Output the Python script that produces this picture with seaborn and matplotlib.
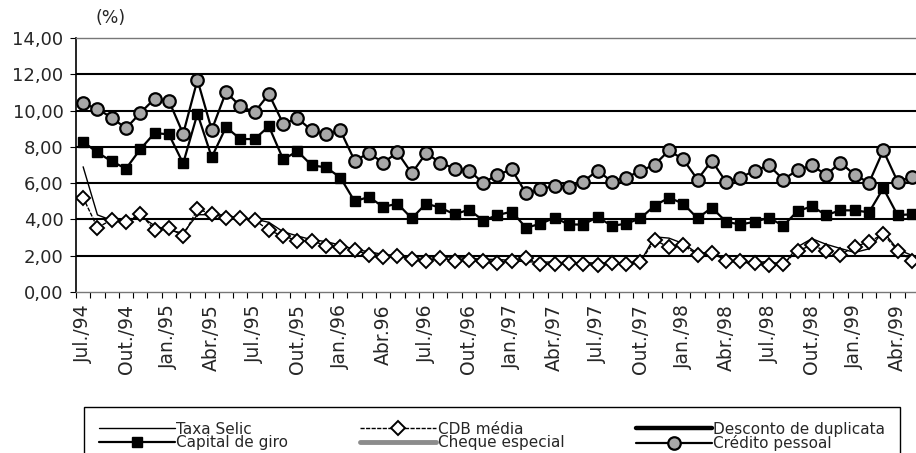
import matplotlib
matplotlib.use("Agg")
import matplotlib.pyplot as plt
import seaborn as sns
import numpy as np

sns.set_theme(style="white")
plt.rcParams["font.family"] = ["DejaVu Sans"]

# monthly rates (% a.m.), Jul/94 .. May/99
taxa_selic = [6.90, 4.25, 3.95, 3.90, 4.20, 3.65, 3.40, 3.25, 4.26, 4.26, 4.25, 4.04, 4.02, 3.84, 3.32, 3.09, 2.88, 2.78, 2.58,
              2.35, 2.22, 2.07, 2.01, 1.98, 1.93, 1.97, 1.90, 1.86, 1.80, 1.80, 1.73, 1.67, 1.64, 1.66, 1.58, 1.61, 1.60, 1.59, 1.59, 1.67,
              3.04, 2.97, 2.67, 2.13, 2.20, 1.71, 1.63, 1.60, 1.70, 1.48, 2.49, 2.94, 2.63, 2.40, 2.18, 2.38, 3.33, 2.35, 2.02]
cdb_media = [5.20, 3.55, 3.98, 3.87, 4.31, 3.43, 3.54, 3.09, 4.57, 4.31, 4.09, 4.09, 3.98, 3.39, 3.09, 2.83, 2.83, 2.55, 2.50,
             2.31, 2.06, 1.91, 1.98, 1.80, 1.72, 1.87, 1.72, 1.76, 1.72, 1.61, 1.72, 1.87, 1.54, 1.54, 1.61, 1.57, 1.50, 1.61, 1.55, 1.65,
             2.87, 2.46, 2.57, 2.06, 2.17, 1.72, 1.72, 1.61, 1.50, 1.54, 2.28, 2.57, 2.28, 2.06, 2.50, 2.76, 3.20, 2.28, 1.72]
capital_giro = [8.28, 7.69, 7.20, 6.80, 7.87, 8.76, 8.69, 7.09, 9.83, 7.43, 9.09, 8.43, 8.43, 9.13, 7.31, 7.76, 6.98, 6.87, 6.31,
                5.00, 5.24, 4.69, 4.87, 4.06, 4.87, 4.65, 4.28, 4.54, 3.94, 4.24, 4.43, 3.54, 3.76, 4.09, 3.72, 3.72, 4.13, 3.65, 3.76, 4.06,
                4.76, 5.20, 4.87, 4.06, 4.65, 3.87, 3.72, 3.87, 4.09, 3.65, 4.46, 4.72, 4.24, 4.50, 4.50, 4.39, 5.72, 4.24, 4.28]
credito_pessoal = [10.39, 10.09, 9.61, 9.02, 9.87, 10.65, 10.54, 8.72, 11.69, 8.94, 11.02, 10.24, 9.91, 10.91, 9.28, 9.57, 8.91, 8.69, 8.91,
                   7.24, 7.65, 7.13, 7.69, 6.54, 7.65, 7.13, 6.80, 6.69, 6.02, 6.46, 6.76, 5.43, 5.65, 5.87, 5.76, 6.09, 6.69, 6.09, 6.31, 6.67,
                   7.02, 7.80, 7.31, 6.20, 7.24, 6.06, 6.31, 6.69, 6.98, 6.20, 6.72, 6.98, 6.46, 7.13, 6.46, 6.02, 7.80, 6.09, 6.35]
# not visible in the plotted area, legend only
desconto_duplicata = []
cheque_especial = []

x_labels = ["Jul./94", "Out./94", "Jan./95", "Abr./95", "Jul./95", "Out./95", "Jan./96", "Abr.96", "Jul./96", "Out./96",
            "Jan./97", "Abr./97", "Jul./97", "Out./97", "Jan./98", "Abr./98", "Jul./98", "Out./98", "Jan./99", "Abr./99"]
y_ticks = [0, 2, 4, 6, 8, 10, 12, 14]
y_labels = ["0,00", "2,00", "4,00", "6,00", "8,00", "10,00", "12,00", "14,00"]

months = np.arange(len(cdb_media))

fig = plt.figure(figsize=(9.16, 4.53), dpi=100)
ax = fig.add_axes([76 / 916, 1 - 292 / 453, 843 / 916, 254 / 453])

sns.lineplot(x=months, y=taxa_selic, ax=ax, color="black", lw=1.0, label="Taxa Selic")
sns.lineplot(x=months, y=cdb_media, ax=ax, color="black", lw=1.0, ls=(0, (3, 1)),
             marker="D", markersize=6.8, markerfacecolor="white", mec="black", mew=1.4, label="CDB média")
ax.plot(desconto_duplicata, desconto_duplicata, color="black", lw=3.2, label="Desconto de duplicata")
sns.lineplot(x=months, y=capital_giro, ax=ax, color="black", lw=1.6,
             marker="s", markersize=7, markerfacecolor="black", mec="black", mew=1, label="Capital de giro")
ax.plot(cheque_especial, cheque_especial, color="#8c8c8c", lw=3.5, label="Cheque especial")
sns.lineplot(x=months, y=credito_pessoal, ax=ax, color="black", lw=1.6,
             marker="o", markersize=9, markerfacecolor="#a8a8a8", mec="black", mew=1.6, label="Crédito pessoal")

ax.set_xlim(-0.5, len(months) - 0.5)
ax.set_ylim(0, 14)
ax.set_xlabel("")
ax.set_ylabel("")

ax.set_yticks(y_ticks)
ax.set_yticklabels(y_labels, fontsize=13)
ax.set_xticks(months[::3])
ax.set_xticklabels(x_labels, rotation=90, fontsize=13.5, va="top", ha="center")
ax.set_xticks(np.arange(len(months) + 1) - 0.5, minor=True)
ax.tick_params(axis="x", which="major", length=0, pad=9)
ax.tick_params(axis="x", which="minor", length=4, width=0.8, color="black", direction="out", bottom=True)
ax.tick_params(axis="y", length=4, width=0.8, color="black", direction="out", left=True, pad=5)

ax.yaxis.grid(True, color="black", lw=1.5)
ax.xaxis.grid(False)
gl = ax.yaxis.get_gridlines()
gl[0].set_visible(False)
gl[-1].set_visible(False)
ax.set_axisbelow(True)

ax.spines["left"].set_color("black")
ax.spines["left"].set_linewidth(1.2)
ax.spines["right"].set_visible(False)
ax.spines["top"].set_color("#777777")
ax.spines["top"].set_linewidth(1.0)
ax.spines["bottom"].set_color("#777777")
ax.spines["bottom"].set_linewidth(1.0)

fig.text(111 / 916, 1 - 18 / 453, "(%)", ha="center", va="center", fontsize=12.5)

handles, labels = ax.get_legend_handles_labels()
ax.get_legend().remove()
order = ["Taxa Selic", "Capital de giro", "CDB média", "Cheque especial", "Desconto de duplicata", "Crédito pessoal"]
hmap = dict(zip(labels, handles))
leg = fig.legend([hmap[k] for k in order], order, loc="upper left",
                 bbox_to_anchor=(84 / 916, 1 - 407 / 453, 816 / 916, 0.0), mode="expand",
                 ncol=3, fontsize=11, handlelength=5.0, handletextpad=0.1, labelspacing=-0.1,
                 borderpad=0.95, fancybox=False, framealpha=1, edgecolor="black", borderaxespad=0)
leg.get_frame().set_linewidth(1.0)

fig.savefig("out.png", dpi=100)
plt.close(fig)
